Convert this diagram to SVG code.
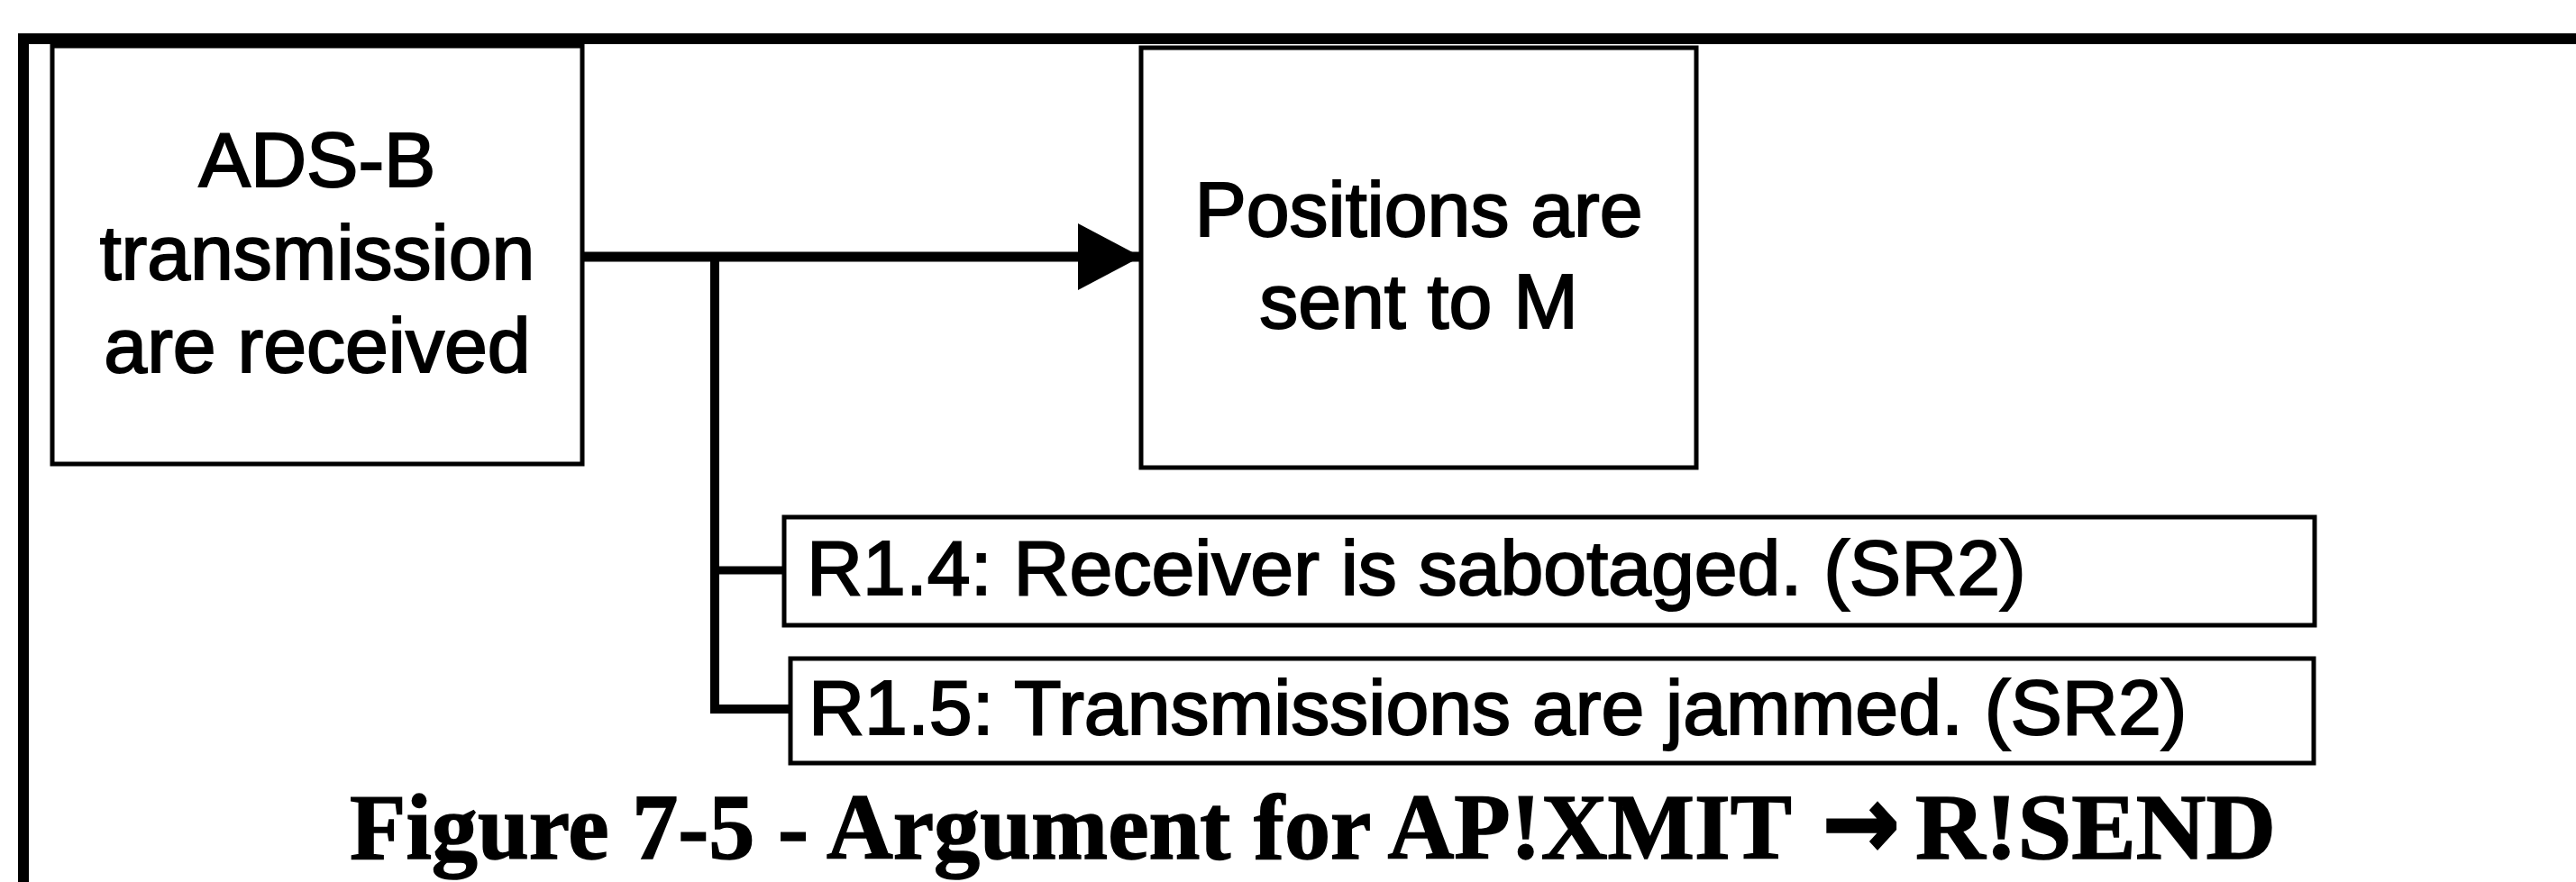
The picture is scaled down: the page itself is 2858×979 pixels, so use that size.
<svg xmlns="http://www.w3.org/2000/svg" width="2858" height="979" viewBox="0 0 2858 979">
  <style>
    .box { fill: #ffffff; stroke: #000000; stroke-width: 5; }
    .lbl { font-family: "Liberation Sans", Arial, sans-serif; font-size: 86px; fill: #000000; stroke: #000000; stroke-width: 2; }
    .ctr { text-anchor: middle; }
    .conn { stroke: #000000; fill: none; }
    .cap { font-family: "Liberation Serif", "Times New Roman", serif; font-weight: bold; font-size: 104px; fill: #000000; stroke: #000000; stroke-width: 1.5; }
    .arr { font-family: "DejaVu Sans", sans-serif; font-weight: bold; font-size: 112px; fill: #000000; stroke: #000000; stroke-width: 3; }
  </style>
  <defs>
    <marker id="arrow" markerUnits="userSpaceOnUse" markerWidth="72" markerHeight="74" refX="70" refY="37" orient="auto">
      <path d="M0,0 L70,37 L0,74 Z" fill="#000000"/>
    </marker>
  </defs>
  <rect x="0" y="0" width="2858" height="979" fill="#ffffff"/>
  <g id="frame">
    <path d="M26,979 L26,43 L2858,43" fill="none" stroke="#000000" stroke-width="12"/>
  </g>
  <g id="connectors">
    <line class="conn" x1="647" y1="285" x2="1266" y2="285" stroke-width="11" marker-end="url(#arrow)"/>
    <path class="conn" d="M793,285 L793,787 L877,787" stroke-width="10"/>
    <line class="conn" x1="793" y1="633" x2="870" y2="633" stroke-width="9"/>
  </g>
  <g id="node-adsb">
    <rect class="box" x="58" y="51" width="588" height="464"/>
    <text class="lbl ctr" x="352" y="207">ADS-B</text>
    <text class="lbl ctr" x="352" y="310">transmission</text>
    <text class="lbl ctr" x="352" y="413">are received</text>
  </g>
  <g id="node-positions">
    <rect class="box" x="1266" y="53" width="616" height="466"/>
    <text class="lbl ctr" x="1574" y="262">Positions are</text>
    <text class="lbl ctr" x="1574" y="364">sent to M</text>
  </g>
  <g id="node-r14">
    <rect class="box" x="870" y="574" width="1698" height="120"/>
    <text class="lbl" x="895" y="660">R1.4: Receiver is sabotaged. (SR2)</text>
  </g>
  <g id="node-r15">
    <rect class="box" x="877" y="731" width="1690" height="116"/>
    <text class="lbl" x="897" y="815">R1.5: Transmissions are jammed. (SR2)</text>
  </g>
  <g id="caption">
    <text class="cap" x="388" y="953" textLength="1600" lengthAdjust="spacingAndGlyphs">Figure 7-5 - Argument for AP!XMIT</text>
    <text class="arr" x="2022" y="952" textLength="86" lengthAdjust="spacingAndGlyphs">→</text>
    <text class="cap" x="2125" y="953" textLength="400" lengthAdjust="spacingAndGlyphs">R!SEND</text>
  </g>
</svg>
